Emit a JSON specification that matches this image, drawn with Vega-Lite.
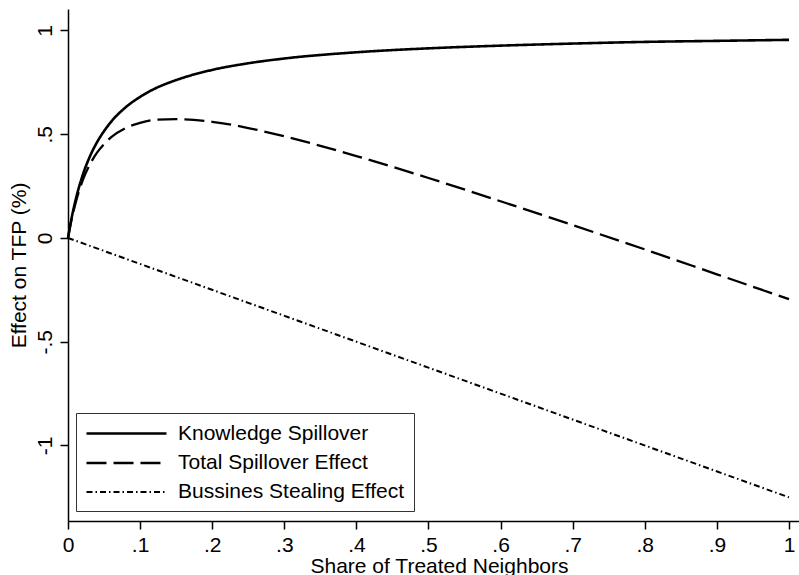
{
  "$schema": "https://vega.github.io/schema/vega-lite/v6.json",
  "autosize": {"type": "none"},
  "width": 731,
  "height": 512,
  "padding": {"left": 68, "top": 9, "right": 0, "bottom": 54},
  "background": "white",
  "view": {"stroke": null},
  "config": {
    "font": "Liberation Sans",
    "axis": {
      "grid": false,
      "domainColor": "black",
      "domainWidth": 1.5,
      "tickColor": "black",
      "tickWidth": 1.5,
      "tickSize": 8,
      "labelColor": "black",
      "labelFont": "Liberation Sans",
      "labelFontSize": 21,
      "titleFont": "Liberation Sans",
      "titleFontSize": 21,
      "titleFontWeight": "normal",
      "titleColor": "black"
    },
    "legend": {
      "labelFont": "Liberation Sans",
      "labelFontSize": 21,
      "labelColor": "black"
    }
  },
  "datasets": {
    "curves": [
      {"x": 0, "series": "Knowledge Spillover", "y": 0},
      {"x": 0.005, "series": "Knowledge Spillover", "y": 0.096},
      {"x": 0.01, "series": "Knowledge Spillover", "y": 0.175},
      {"x": 0.02, "series": "Knowledge Spillover", "y": 0.299},
      {"x": 0.03, "series": "Knowledge Spillover", "y": 0.39},
      {"x": 0.04, "series": "Knowledge Spillover", "y": 0.46},
      {"x": 0.05, "series": "Knowledge Spillover", "y": 0.515},
      {"x": 0.06, "series": "Knowledge Spillover", "y": 0.561},
      {"x": 0.08, "series": "Knowledge Spillover", "y": 0.63},
      {"x": 0.1, "series": "Knowledge Spillover", "y": 0.68},
      {"x": 0.12, "series": "Knowledge Spillover", "y": 0.719},
      {"x": 0.15, "series": "Knowledge Spillover", "y": 0.761},
      {"x": 0.2, "series": "Knowledge Spillover", "y": 0.81},
      {"x": 0.25, "series": "Knowledge Spillover", "y": 0.842},
      {"x": 0.3, "series": "Knowledge Spillover", "y": 0.865},
      {"x": 0.4, "series": "Knowledge Spillover", "y": 0.895},
      {"x": 0.5, "series": "Knowledge Spillover", "y": 0.914},
      {"x": 0.6, "series": "Knowledge Spillover", "y": 0.927},
      {"x": 0.7, "series": "Knowledge Spillover", "y": 0.937},
      {"x": 0.8, "series": "Knowledge Spillover", "y": 0.945},
      {"x": 0.9, "series": "Knowledge Spillover", "y": 0.95},
      {"x": 1, "series": "Knowledge Spillover", "y": 0.955},

      {"x": 0, "series": "Total Spillover Effect", "y": 0},
      {"x": 0.005, "series": "Total Spillover Effect", "y": 0.09},
      {"x": 0.01, "series": "Total Spillover Effect", "y": 0.162},
      {"x": 0.02, "series": "Total Spillover Effect", "y": 0.274},
      {"x": 0.03, "series": "Total Spillover Effect", "y": 0.352},
      {"x": 0.04, "series": "Total Spillover Effect", "y": 0.41},
      {"x": 0.05, "series": "Total Spillover Effect", "y": 0.452},
      {"x": 0.06, "series": "Total Spillover Effect", "y": 0.486},
      {"x": 0.08, "series": "Total Spillover Effect", "y": 0.53},
      {"x": 0.1, "series": "Total Spillover Effect", "y": 0.555},
      {"x": 0.12, "series": "Total Spillover Effect", "y": 0.569},
      {"x": 0.15, "series": "Total Spillover Effect", "y": 0.573},
      {"x": 0.2, "series": "Total Spillover Effect", "y": 0.56},
      {"x": 0.25, "series": "Total Spillover Effect", "y": 0.53},
      {"x": 0.3, "series": "Total Spillover Effect", "y": 0.49},
      {"x": 0.4, "series": "Total Spillover Effect", "y": 0.395},
      {"x": 0.5, "series": "Total Spillover Effect", "y": 0.289},
      {"x": 0.6, "series": "Total Spillover Effect", "y": 0.177},
      {"x": 0.7, "series": "Total Spillover Effect", "y": 0.062},
      {"x": 0.8, "series": "Total Spillover Effect", "y": -0.055},
      {"x": 0.9, "series": "Total Spillover Effect", "y": -0.175},
      {"x": 1, "series": "Total Spillover Effect", "y": -0.295},

      {"x": 0, "series": "Bussines Stealing Effect", "y": 0},
      {"x": 0.25, "series": "Bussines Stealing Effect", "y": -0.3125},
      {"x": 0.5, "series": "Bussines Stealing Effect", "y": -0.625},
      {"x": 0.75, "series": "Bussines Stealing Effect", "y": -0.9375},
      {"x": 1, "series": "Bussines Stealing Effect", "y": -1.25}
    ]
  },
  "layer": [
    {
      "mark": {"type": "rule", "color": "#333333", "strokeWidth": 1.5},
      "encoding": {
        "x": {"datum": 0, "type": "quantitative"},
        "x2": {"datum": 1.0139},
        "y": {"datum": 1.1036, "type": "quantitative"}
      }
    },
    {
      "mark": {"type": "rule", "color": "#888888", "strokeWidth": 1.5},
      "encoding": {
        "x": {"datum": 0, "type": "quantitative"},
        "x2": {"datum": 1},
        "y": {"datum": 0, "type": "quantitative"}
      }
    },
    {
      "data": {"name": "curves"},
      "mark": {"type": "line", "color": "black", "interpolate": "monotone", "strokeCap": "butt"},
      "encoding": {
        "x": {
          "field": "x", "type": "quantitative",
          "scale": {"domain": [0, 1.0139], "nice": false, "zero": false},
          "axis": {
            "values": [0, 0.1, 0.2, 0.3, 0.4, 0.5, 0.6, 0.7, 0.8, 0.9, 1],
            "labelExpr": "replace(replace(format(datum.value, '~g'), '−', '-'), regexp('^(-?)0[.]'), '$1.')",
            "title": "Share of Treated Neighbors",
            "labelPadding": 5,
            "titlePadding": 0,
            "titleX": 371,
            "labelFlush": false,
            "labelOverlap": false
          }
        },
        "y": {
          "field": "y", "type": "quantitative",
          "scale": {"domain": [-1.364, 1.1036], "nice": false, "zero": false},
          "axis": {
            "values": [-1, -0.5, 0, 0.5, 1],
            "labelExpr": "replace(replace(format(datum.value, '~g'), '−', '-'), regexp('^(-?)0[.]'), '$1.')",
            "labelAngle": -90,
            "labelAlign": "center",
            "labelBaseline": "bottom",
            "labelPadding": 5,
            "title": "Effect on TFP (%)",
            "titlePadding": 5,
            "labelFlush": false,
            "labelOverlap": false
          }
        },
        "detail": {"field": "series"},
        "strokeDash": {
          "field": "series", "type": "nominal",
          "scale": {
            "domain": ["Knowledge Spillover", "Total Spillover Effect", "Bussines Stealing Effect"],
            "range": [[1, 0], [20, 7], [6, 3, 1.5, 3]]
          },
          "legend": {
            "title": null,
            "orient": "none",
            "legendX": 8,
            "legendY": 404,
            "symbolType": "M-1,0H7",
            "symbolSize": 400,
            "symbolStrokeColor": "black",
            "symbolFillColor": "transparent",
            "labelOffset": 70,
            "padding": 9,
            "rowPadding": 7.5,
            "strokeColor": "#333333",
            "fillColor": "white",
            "labelLimit": 400
          }
        },
        "strokeWidth": {
          "field": "series", "type": "nominal",
          "scale": {
            "domain": ["Knowledge Spillover", "Total Spillover Effect", "Bussines Stealing Effect"],
            "range": [2.6, 2, 1.6]
          },
          "legend": null
        }
      }
    }
  ]
}
